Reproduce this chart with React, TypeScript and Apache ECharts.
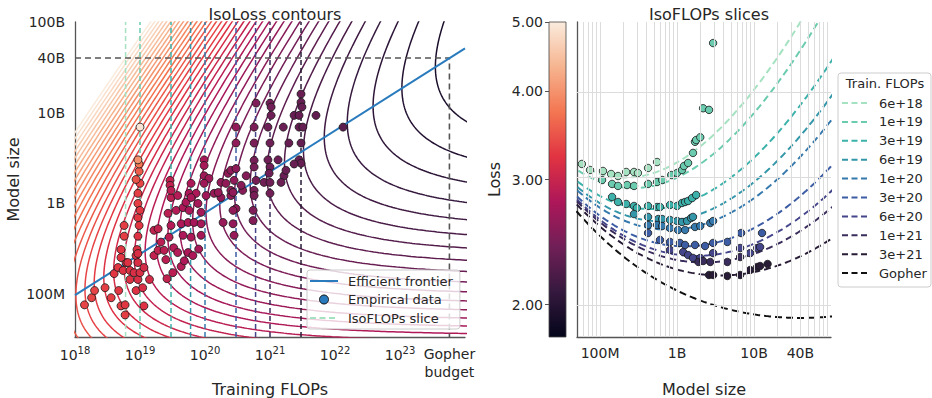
import { useEffect, useRef } from "react";
import * as echarts from "echarts";

// ---------------- data ----------------
const budgetLabels = ["6e+18", "1e+19", "3e+19", "6e+19", "1e+20", "3e+20", "6e+20", "1e+21", "3e+21"];
const budgetFlops = [6e18, 1e19, 3e19, 6e19, 1e20, 3e20, 6e20, 1e21, 3e21];
const budgetColors = ["#a4e2c1", "#6acbae", "#3db2ab", "#3496a9", "#3579ad", "#3c5ca3", "#44458a", "#3a2d5c", "#271b36"];
const gopherLabel = "Gopher";
const gopherFlops = 5.76e23;
const gopherParams = 4e10;
const gopherColor = "#111111";

// fitted parametric loss  L(N, D) = E + A / N^alpha + B / D^beta  (D = C / 6N)
const fitE = 1.69;
const fitA = 406.4;
const fitB = 410.7;
const fitAlpha = 0.3392;
const fitBeta = 0.2849;

// contour loss levels drawn in the left panel
const contourLevels = [
  5.0, 4.877, 4.756, 4.639, 4.524, 4.412, 4.304, 4.197, 4.094, 3.993, 3.894, 3.798, 3.704, 3.612, 3.523,
  3.436, 3.351, 3.269, 3.188, 3.109, 3.032, 2.957, 2.884, 2.813, 2.744, 2.676, 2.61, 2.545, 2.483, 2.421,
  2.361, 2.303, 2.246, 2.191, 2.137, 2.084, 2.032, 1.982, 1.933, 1.885,
];

// efficient frontier (FLOPs, params)
const frontierFlops = [1e18, 1e24];
const frontierParams = [9.6e7, 5.1e10];

// tick values / labels
const flopsTickValues = [1e18, 1e19, 1e20, 1e21, 1e22, 1e23];
const paramTickValues = [1e8, 1e9, 1e10, 4e10, 1e11];
const paramTickLabels = ["100M", "1B", "10B", "40B", "100B"];
const sizeTickValues = [1e8, 1e9, 1e10, 4e10];
const sizeTickLabels = ["100M", "1B", "10B", "40B"];
const lossTickValues = [2, 3, 4, 5];
const lossMin = 1.8;
const lossMax = 5.0;

// empirical runs in the left panel: [FLOPs, params, loss]
const empiricalRuns: [number, number, number][] = [
  [1.4e18, 7.5e7, 3.35], [1.8e18, 9.0e7, 3.35], [2.0e18, 1.08e8, 3.35], [2.9e18, 1.16e8, 3.3], [3.6e18, 9.0e7, 3.3],
  [4.0e18, 1.66e8, 3.25], [4.7e18, 1.08e8, 3.25], [5.1e18, 7.3e7, 3.3], [5.9e18, 5.8e7, 3.3], [5.9e18, 7.5e7, 3.25],
  [6.1e18, 2.2e8, 3.2], [4.6e18, 1.94e8, 3.25], [5.5e18, 1.8e8, 3.2], [7.0e18, 1.43e8, 3.2], [8.7e18, 1.08e8, 3.2],
  [9.3e18, 1.43e8, 3.15], [1.1e19, 1.16e8, 3.15], [1.15e19, 7.3e7, 3.2], [7.0e18, 1.8e8, 3.2], [8.1e18, 1.7e8, 3.15],
  [1.0e19, 1.7e8, 3.15], [1.15e19, 1.94e8, 3.1], [1.4e19, 1.43e8, 3.1], [5.1e18, 3.06e8, 3.25], [5.7e18, 5.65e8, 3.3],
  [5.7e18, 4.3e8, 3.3], [5.1e18, 2.5e8, 3.25], [6.5e18, 2.2e8, 3.2], [8.7e18, 2.63e8, 3.15], [9.3e18, 2.2e8, 3.15],
  [9.0e18, 3.06e8, 3.2], [9.7e18, 5.65e8, 3.25], [9.3e18, 6.9e8, 3.25], [9.3e18, 9.9e8, 3.3], [9.3e18, 1.28e9, 3.3],
  [9.3e18, 2.77e8, 3.15], [9.3e18, 4.3e8, 3.2], [1.0e19, 8.3e8, 3.25], [1.0e19, 1.65e9, 3.35], [8.7e18, 1.82e9, 3.45],
  [9.7e18, 2.24e9, 3.55], [9.7e18, 2.7e9, 3.75], [9.3e18, 3.0e9, 4.0], [1.0e19, 6.9e9, 4.9],
  [1.64e19, 5.0e8, 2.95], [1.9e19, 5.2e8, 2.95], [1.64e19, 2.63e8, 2.95], [1.9e19, 3.0e8, 2.95], [2.35e19, 3.0e8, 2.9],
  [2.1e19, 3.7e8, 2.9], [2.5e19, 2.37e8, 2.9], [2.6e19, 1.46e8, 2.95], [3.2e19, 1.7e8, 2.9], [3.3e19, 3.2e8, 2.85],
  [2.8e19, 4.2e8, 2.9], [3.0e19, 5.65e8, 2.85], [3.8e19, 2.84e8, 2.85], [4.3e19, 1.99e8, 2.85], [4.8e19, 2.3e8, 2.8],
  [5.5e19, 2.84e8, 2.8], [6.5e19, 2.63e8, 2.8], [8.0e19, 3.1e8, 2.75], [8.7e19, 4.4e8, 2.75], [6.1e19, 4.2e8, 2.8],
  [4.6e19, 4.4e8, 2.8], [4.3e19, 5.9e8, 2.8], [5.5e19, 6.1e8, 2.8], [6.8e19, 6.1e8, 2.75], [8.7e19, 5.9e8, 2.75],
  [2.7e19, 7.7e8, 2.9], [3.6e19, 8.3e8, 2.85], [4.6e19, 8.9e8, 2.8], [5.1e19, 1.02e9, 2.8], [5.7e19, 8.3e8, 2.8],
  [7.8e19, 9.9e8, 2.75], [8.7e19, 7.9e8, 2.75], [3.0e19, 1.15e9, 2.9], [3.8e19, 1.21e9, 2.85], [5.7e19, 1.28e9, 2.8],
  [7.3e19, 1.28e9, 2.8], [2.9e19, 1.78e9, 2.95], [2.9e19, 1.57e9, 2.95], [3.0e19, 1.38e9, 2.9], [6.1e19, 1.65e9, 2.8],
  [6.1e19, 1.15e9, 2.8], [9.7e19, 3.0e9, 2.75], [9.7e19, 2.6e9, 2.75], [9.7e19, 2.0e9, 2.7], [1.15e20, 1.87e9, 2.7],
  [9.7e19, 1.65e9, 2.7], [1.04e20, 1.21e9, 2.7],
  [1.38e20, 1.28e9, 2.65], [1.76e20, 1.15e9, 2.62], [2.5e20, 1.21e9, 2.6], [3.0e20, 8.7e8, 2.6], [1.9e20, 6.1e8, 2.65],
  [1.76e20, 1.69e9, 2.62], [2.26e20, 2.13e9, 2.62], [2.5e20, 2.3e9, 2.6], [2.8e20, 1.78e9, 2.6], [2.1e20, 1.65e9, 2.62],
  [1.6e20, 1.31e9, 2.65], [2.5e20, 1.38e9, 2.6], [3.0e20, 6.9e9, 2.62], [3.0e20, 4.6e9, 2.6], [3.0e20, 2.4e9, 2.58],
  [2.7e20, 1.31e9, 2.6], [2.7e20, 8.3e8, 2.6], [2.7e20, 5.9e8, 2.62], [2.8e20, 4.4e8, 2.65], [3.8e20, 1.38e9, 2.55],
  [3.6e20, 1.57e9, 2.55], [4.3e20, 2.0e9, 2.52],
  [6.1e20, 1.27e10, 2.5], [5.7e20, 6.9e9, 2.48], [5.7e20, 4.6e9, 2.46], [5.7e20, 2.96e9, 2.45], [5.7e20, 2.5e9, 2.45],
  [6.1e20, 1.78e9, 2.45], [5.7e20, 1.38e9, 2.46], [5.5e20, 8.3e8, 2.5], [5.5e20, 6.4e8, 2.52], [5.7e20, 1.21e9, 2.47],
  [8.1e20, 1.69e9, 2.42], [1.0e21, 1.27e10, 2.42], [1.04e21, 1.15e10, 2.42], [1.04e21, 9.3e9, 2.4], [9.3e20, 6.9e9, 2.4],
  [1.0e21, 4.6e9, 2.4], [9.3e20, 3.0e9, 2.4], [1.0e21, 2.5e9, 2.4], [9.7e20, 2.13e9, 2.4], [1.0e21, 1.69e9, 2.41],
  [1.0e21, 1.28e9, 2.43], [1.33e21, 3.0e9, 2.38], [1.6e21, 6.9e9, 2.37], [1.64e21, 2.0e9, 2.38], [1.48e21, 1.69e9, 2.39],
  [1.95e21, 4.6e9, 2.36], [1.76e21, 2.3e9, 2.37], [2.35e21, 9.3e9, 2.35], [3.0e21, 1.6e10, 2.36], [3.0e21, 1.3e10, 2.35],
  [3.1e21, 1.15e10, 2.35], [2.8e21, 9.3e9, 2.35], [2.8e21, 6.9e9, 2.34], [3.2e21, 6.9e9, 2.34], [3.0e21, 4.6e9, 2.34],
  [2.8e21, 3.0e9, 2.35], [3.0e21, 2.75e9, 2.35], [2.35e21, 2.7e9, 2.36], [5.1e21, 9.3e9, 2.32], [1.33e22, 6.9e9, 2.28],
];

// IsoFLOP runs in the right panel: [params, loss]
const runs6e18: [number, number][] = [[5.8e7, 3.155], [7.4e7, 3.094], [1.09e8, 3.084], [1.39e8, 3.054], [1.71e8, 3.034], [2.18e8, 3.074], [2.76e8, 3.074], [3.1e8, 3.064], [4.2e8, 3.114], [5.5e8, 3.175]];
const runs1e19: [number, number][] = [[1.06e8, 2.995], [1.43e8, 2.957], [1.71e8, 2.938], [2.24e8, 2.947], [2.76e8, 2.938], [4.2e8, 2.957], [5.5e8, 2.976], [6.4e8, 2.995], [8.4e8, 3.044], [1.0e9, 3.064], [1.16e9, 3.094], [1.23e9, 3.134], [1.39e9, 3.165], [1.61e9, 3.27], [1.71e9, 3.39], [1.77e9, 3.41], [2.0e9, 3.44], [2.18e9, 3.78], [2.6e9, 3.76], [2.94e9, 4.67]];
const runs3e19: [number, number][] = [[1.43e8, 2.835], [1.71e8, 2.789], [2.18e8, 2.771], [2.76e8, 2.753], [3.0e8, 2.735], [4.2e8, 2.753], [5.5e8, 2.744], [6.0e8, 2.744], [8.1e8, 2.762], [1.0e9, 2.753], [1.16e9, 2.78], [1.27e9, 2.789], [1.39e9, 2.798], [1.57e9, 2.825], [1.77e9, 2.853]];
const runs6e19: [number, number][] = [[2.76e8, 2.682], [4.2e8, 2.657], [5.7e8, 2.639], [6.4e8, 2.639], [8.1e8, 2.631], [1.0e9, 2.622], [1.16e9, 2.614], [1.35e9, 2.622], [1.52e9, 2.648], [1.61e9, 2.657]];
const runs1e20: [number, number][] = [[4.2e8, 2.588], [5.5e8, 2.588], [6.4e8, 2.58], [8.1e8, 2.563], [1.03e9, 2.547], [1.27e9, 2.547], [1.71e9, 2.572], [2.0e9, 2.58], [2.7e9, 2.605], [2.94e9, 2.622]];
const runs3e20: [number, number][] = [[4.2e8, 2.522], [6.0e8, 2.466], [8.1e8, 2.45], [1.09e9, 2.442], [1.27e9, 2.426], [1.71e9, 2.426], [2.31e9, 2.418], [2.94e9, 2.442], [4.5e9, 2.45], [6.8e9, 2.522], [1.27e10, 2.522]];
const runs6e20: [number, number][] = [[8.1e8, 2.387], [1.2e9, 2.371], [1.39e9, 2.348], [1.61e9, 2.326], [2.0e9, 2.326], [2.94e9, 2.363], [6.6e9, 2.402], [8.9e9, 2.363], [1.1e10, 2.402], [1.2e10, 2.41]];
const runs1e21: [number, number][] = [[1.9e9, 2.296], [2.18e9, 2.303], [2.7e9, 2.296], [4.5e9, 2.296], [6.6e9, 2.333]];
const runs3e21: [number, number][] = [[2.6e9, 2.201], [2.94e9, 2.201], [4.5e9, 2.194], [6.6e9, 2.201], [8.9e9, 2.237], [1.1e10, 2.259], [1.2e10, 2.266], [1.5e10, 2.281]];
const isoRuns = [runs6e18, runs1e19, runs3e19, runs6e19, runs1e20, runs3e20, runs6e20, runs1e21, runs3e21];

// ---------------- styling helpers ----------------
const rocketStops: [number, string][] = [
  [0, "#03051a"], [1 / 7, "#35193e"], [2 / 7, "#701f57"], [3 / 7, "#ad1759"],
  [4 / 7, "#e13342"], [5 / 7, "#f37651"], [6 / 7, "#f6b48f"], [1, "#faebdd"],
];
const hexRgb = (h: string) => [1, 3, 5].map((i) => parseInt(h.slice(i, i + 2), 16));
function rocket(t: number): string {
  const c = Math.max(0, Math.min(1, t));
  for (let i = 1; i < rocketStops.length; i++) {
    if (c <= rocketStops[i][0]) {
      const [t0, h0] = rocketStops[i - 1];
      const [t1, h1] = rocketStops[i];
      const f = (c - t0) / (t1 - t0);
      const a = hexRgb(h0), b = hexRgb(h1);
      const m = a.map((v, k) => Math.round(v + (b[k] - v) * f));
      return `rgb(${m[0]},${m[1]},${m[2]})`;
    }
  }
  return rocketStops[rocketStops.length - 1][1];
}
const lossT = (L: number) => Math.log(L / lossMin) / Math.log(lossMax / lossMin);

// legend icons (bounding box fixed by the leading move-to points)
const solidIcon = (w: number, h: number) => `path://M0,0M${w},${h}M0,${h / 2 - 1}h${w}v2h-${w}z`;
function dashedIcon(w: number, h: number, dash: number, gap: number) {
  let p = `path://M0,0M${w},${h}`;
  for (let x = 0; x < w - 0.5; x += dash + gap) {
    const len = Math.min(dash, w - x);
    p += `M${x},${h / 2 - 1}h${len}v2h-${len}z`;
  }
  return p;
}

const L10 = Math.log10;
const textColor = "#262626";
const axisColor = "#555555";
const FONT = "DejaVu Sans";
const leftXRange = [18, 24];
const leftYRange = [7.52, 11];
const rightXRange = [7.7, 11];
const lossRange = [L10(lossMin), L10(lossMax)];
const frontierColor = "#2a7bbd";

function contourPoints(level: number): number[][] {
  const span = level - fitE;
  const pts: number[][] = [];
  const n = 1000;
  for (let i = 0; i <= n; i++) {
    const z = -16 + (32 * i) / n;
    const u = span / (1 + Math.exp(-z));
    const v = span / (1 + Math.exp(z));
    const logN = (L10(fitA) - L10(u)) / fitAlpha;
    const logD = (L10(fitB) - L10(v)) / fitBeta;
    const logC = L10(6) + logN + logD;
    if (logN < 7.3 || logN > 11.3 || logC > 24.5 || logC < 17.5) continue;
    pts.push([logC, logN]);
  }
  return pts;
}

function sliceCurve(C: number): number[][] {
  const pts: number[][] = [];
  for (let i = 0; i <= 200; i++) {
    const logN = 7.6 + (3.5 * i) / 200;
    const N = Math.pow(10, logN);
    const D = C / (6 * N);
    const L = fitE + fitA / Math.pow(N, fitAlpha) + fitB / Math.pow(D, fitBeta);
    if (L > 6) continue;
    pts.push([logN, L10(L)]);
  }
  return pts;
}

function buildOption(): any {
  const series: any[] = [];

  contourLevels.forEach((lv, i) => {
    series.push({
      type: "line", name: `contour ${i}`, xAxisIndex: 0, yAxisIndex: 0,
      data: contourPoints(lv), showSymbol: false, symbol: "none", silent: true, z: 1,
      lineStyle: { color: rocket(lossT(lv)), width: 1.5 },
    });
  });

  budgetFlops.forEach((c, i) => {
    series.push({
      type: "line", name: i === 0 ? "IsoFLOPs slice" : `slice ${budgetLabels[i]}`,
      xAxisIndex: 0, yAxisIndex: 0, symbol: "none", silent: true, z: 2,
      data: [[L10(c), leftYRange[0]], [L10(c), leftYRange[1]]],
      lineStyle: { color: budgetColors[i], width: 1.5, type: [5, 3] }, itemStyle: { color: budgetColors[i] },
    });
  });

  series.push({
    type: "line", name: "gopher guide", xAxisIndex: 0, yAxisIndex: 0, symbol: "none", silent: true, z: 2,
    data: [[leftXRange[0], L10(gopherParams)], [L10(gopherFlops), L10(gopherParams)], [L10(gopherFlops), leftYRange[0]]],
    lineStyle: { color: axisColor, width: 1.6, type: [6, 4] },
  });

  series.push({
    type: "line", name: "Efficient frontier", xAxisIndex: 0, yAxisIndex: 0, symbol: "none", z: 3,
    data: frontierFlops.map((c, i) => [L10(c), L10(frontierParams[i])]),
    lineStyle: { color: frontierColor, width: 2 }, itemStyle: { color: frontierColor },
  });

  series.push({
    type: "scatter", name: "Empirical data", xAxisIndex: 0, yAxisIndex: 0, symbolSize: 8, z: 4,
    itemStyle: { color: frontierColor, borderColor: "#1a1a1a", borderWidth: 0.8, opacity: 1 },
    data: empiricalRuns.map(([c, n, l]) => ({
      value: [L10(c), L10(n)],
      itemStyle: { color: rocket(lossT(l)), borderColor: "#1a1a1a", borderWidth: 0.8, opacity: 1 },
    })),
  });

  const vLines: any[] = [];
  for (let d = 7; d <= 10; d++) {
    for (let k = 1; k <= 9; k++) {
      const v = d + L10(k);
      if (v > rightXRange[0] && v < rightXRange[1]) vLines.push({ xAxis: v });
    }
  }
  const hLines = lossTickValues.map((v) => ({ yAxis: L10(v) }));
  series.push({
    type: "line", name: "grid", xAxisIndex: 1, yAxisIndex: 1, symbol: "none", silent: true, z: 0,
    data: [[7.8, 0.3]], lineStyle: { opacity: 0 },
    markLine: {
      silent: true, symbol: ["none", "none"], label: { show: false }, animation: false,
      lineStyle: { color: "#dcdcdc", width: 1, type: "solid" },
      data: [...vLines, ...hLines],
    },
  });

  const allLabels = [...budgetLabels, gopherLabel];
  const allFlops = [...budgetFlops, gopherFlops];
  const allColors = [...budgetColors, gopherColor];
  allLabels.forEach((lab, i) => {
    series.push({
      type: "line", name: lab, xAxisIndex: 1, yAxisIndex: 1, symbol: "none", z: 2,
      data: sliceCurve(allFlops[i]),
      lineStyle: { color: allColors[i], width: 2, type: [7, 4] }, itemStyle: { color: allColors[i] },
    });
  });
  isoRuns.forEach((runs, i) => {
    series.push({
      type: "scatter", name: `runs ${budgetLabels[i]}`, xAxisIndex: 1, yAxisIndex: 1, symbolSize: 7.5, z: 4,
      itemStyle: { color: budgetColors[i], borderColor: "#1a1a1a", borderWidth: 0.8, opacity: 1 },
      data: runs.map(([n, l]) => [L10(n), L10(l)]),
    });
  });

  const gopherLog = L10(gopherFlops);
  const baseLabel = { color: textColor, fontSize: 14, fontFamily: FONT };

  return {
    animation: false,
    backgroundColor: "#ffffff",
    textStyle: { fontFamily: FONT, color: textColor },
    title: [
      { text: "IsoLoss contours", left: 270, top: 1, textAlign: "center", textStyle: { fontSize: 16, fontWeight: "normal", color: textColor, fontFamily: FONT } },
      { text: "IsoFLOPs slices", left: 704, top: 1, textAlign: "center", textStyle: { fontSize: 16, fontWeight: "normal", color: textColor, fontFamily: FONT } },
    ],
    grid: [
      { left: 75, top: 22, width: 390, height: 315, containLabel: false, outerBoundsMode: "none" },
      { left: 577, top: 22, width: 254, height: 315, containLabel: false, outerBoundsMode: "none" },
      { left: 549, top: 22, width: 17, height: 315, containLabel: false, outerBoundsMode: "none" },
    ],
    xAxis: [
      {
        gridIndex: 0, type: "value", min: leftXRange[0], max: leftXRange[1],
        axisLine: { lineStyle: { color: axisColor, width: 1.3 } }, axisTick: { show: false }, splitLine: { show: false },
        axisLabel: {
          ...baseLabel, margin: 8, lineHeight: 18,
          customValues: [...flopsTickValues.map((v) => L10(v)), gopherLog],
          formatter: (v: number) => (Math.abs(v - gopherLog) < 1e-6 ? "Gopher\nbudget" : `{b|10}{s|${Math.round(v)}}`),
          rich: {
            b: { fontSize: 14, color: textColor, fontFamily: FONT, verticalAlign: "bottom", lineHeight: 17 },
            s: { fontSize: 10, color: textColor, fontFamily: FONT, verticalAlign: "top", lineHeight: 11 },
          },
        },
        name: "Training FLOPs", nameLocation: "middle", nameGap: 44, nameMoveOverlap: false,
        nameTextStyle: { fontSize: 16, color: textColor, fontFamily: FONT },
      },
      {
        gridIndex: 1, type: "value", min: rightXRange[0], max: rightXRange[1],
        axisLine: { lineStyle: { color: axisColor, width: 1.3 } }, axisTick: { show: false }, splitLine: { show: false },
        axisLabel: {
          ...baseLabel, margin: 9,
          customValues: sizeTickValues.map((v) => L10(v)),
          formatter: (v: number) => {
            let best = 0;
            sizeTickValues.forEach((t, i) => { if (Math.abs(L10(t) - v) < Math.abs(L10(sizeTickValues[best]) - v)) best = i; });
            return sizeTickLabels[best];
          },
        },
        name: "Model size", nameLocation: "middle", nameGap: 44, nameMoveOverlap: false,
        nameTextStyle: { fontSize: 16, color: textColor, fontFamily: FONT },
      },
      { gridIndex: 2, type: "value", min: 0, max: 1, show: false },
    ],
    yAxis: [
      {
        gridIndex: 0, type: "value", min: leftYRange[0], max: leftYRange[1],
        axisLine: { show: true, lineStyle: { color: axisColor, width: 1.3 } }, axisTick: { show: false }, splitLine: { show: false },
        axisLabel: {
          ...baseLabel, margin: 10,
          customValues: paramTickValues.map((v) => L10(v)),
          formatter: (v: number) => {
            let best = 0;
            paramTickValues.forEach((t, i) => { if (Math.abs(L10(t) - v) < Math.abs(L10(paramTickValues[best]) - v)) best = i; });
            return paramTickLabels[best];
          },
        },
        name: "Model size", nameLocation: "middle", nameGap: 54, nameMoveOverlap: false,
        nameTextStyle: { fontSize: 16, color: textColor, fontFamily: FONT },
      },
      {
        gridIndex: 1, type: "value", min: lossRange[0], max: lossRange[1],
        axisLine: { show: true, lineStyle: { color: axisColor, width: 1.3 } }, axisTick: { show: false },
        axisLabel: { show: false }, splitLine: { show: false },
      },
      {
        gridIndex: 2, type: "value", min: lossRange[0], max: lossRange[1], position: "left",
        axisLine: { show: false }, splitLine: { show: false },
        axisTick: { show: true, length: 4, lineStyle: { color: axisColor, width: 1 }, customValues: lossTickValues.map((v) => L10(v)) },
        axisLabel: {
          ...baseLabel, margin: 6,
          customValues: lossTickValues.map((v) => L10(v)),
          formatter: (v: number) => Math.pow(10, v).toFixed(2),
        },
        name: "Loss", nameLocation: "middle", nameGap: 47, nameMoveOverlap: false,
        nameTextStyle: { fontSize: 16, color: textColor, fontFamily: FONT },
      },
    ],
    legend: [
      {
        left: 307, top: 270, orient: "vertical", padding: [4, 7, 4, 3],
        itemWidth: 28, itemHeight: 9, itemGap: 4.5, selectedMode: false, z: 10,
        backgroundColor: "rgba(255,255,255,0.8)", borderColor: "#cccccc", borderWidth: 1, borderRadius: 3,
        textStyle: { fontSize: 13, color: textColor, fontFamily: FONT, lineHeight: 14, padding: [0, 0, 0, 5] },
        data: [
          { name: "Efficient frontier", icon: solidIcon(28, 9), itemStyle: { color: frontierColor, borderWidth: 0 } },
          { name: "Empirical data", icon: "circle", itemStyle: { color: frontierColor, borderColor: "#111111", borderWidth: 1 } },
          { name: "IsoFLOPs slice", icon: dashedIcon(28, 9, 6, 3.5), itemStyle: { color: budgetColors[0], borderWidth: 0 } },
        ],
      },
      {
        left: 842, top: 96, orient: "vertical", padding: 0,
        itemWidth: 25, itemHeight: 10, itemGap: 4.9, selectedMode: false, z: 10,
        textStyle: { fontSize: 13, color: textColor, fontFamily: FONT, lineHeight: 14, padding: [0, 0, 0, 7] },
        data: allLabels.map((lab, i) => ({
          name: lab, icon: dashedIcon(25, 10, 6, 3.5), itemStyle: { color: allColors[i], borderWidth: 0 },
        })),
      },
    ],
    graphic: [
      {
        type: "rect", silent: true, z: 5,
        shape: { x: 549, y: 22, width: 17, height: 315 },
        style: {
          fill: new echarts.graphic.LinearGradient(0, 1, 0, 0, rocketStops.map(([o, c]) => ({ offset: o, color: c }))),
          stroke: "#444444", lineWidth: 0.8,
        },
      },
      {
        type: "rect", silent: true, z: 1,
        shape: { x: 838, y: 73, width: 93, height: 214, r: 3 },
        style: { fill: "rgba(255,255,255,0.85)", stroke: "#cccccc", lineWidth: 1 },
      },
      {
        type: "text", silent: true, z: 11, x: 885, y: 83,
        style: { text: "Train. FLOPs", font: `13px "${FONT}"`, fill: textColor, textAlign: "center", textVerticalAlign: "middle" },
      },
    ],
    series,
  };
}

export default function App() {
  const ref = useRef<HTMLDivElement>(null);
  useEffect(() => {
    if (!ref.current) return;
    const chart = echarts.init(ref.current, undefined, { renderer: "svg" });
    chart.setOption(buildOption());
    return () => chart.dispose();
  }, []);
  return <div ref={ref} style={{ width: 932, height: 398, position: "absolute", left: 0, top: 0 }} />;
}
